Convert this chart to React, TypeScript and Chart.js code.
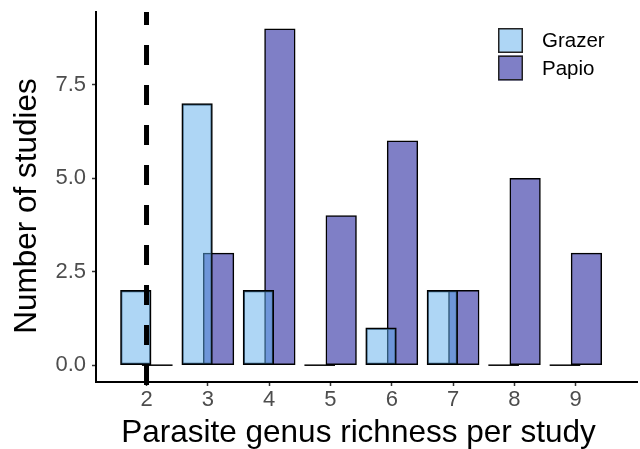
import React, { useEffect, useRef } from 'react';
import { Chart, registerables } from 'chart.js';

Chart.register(...registerables);

// ---- data ----
const categories = [2, 3, 4, 5, 6, 7, 8, 9];
const grazer = [2, 7, 2, 0, 1, 2, 0, 0];
const papio = [0, 3, 9, 4, 6, 2, 5, 3];
const seriesNames = ['Grazer', 'Papio'];
const yTickValues = [0, 2.5, 5, 7.5];
const thresholdX = [2];
const xTitle = 'Parasite genus richness per study';
const yTitle = 'Number of studies';

// ---- style ----
const DODGE = 0.175;
const FONT = "'Liberation Sans', Arial, Helvetica, sans-serif";
const GRAZER_FILL = 'rgba(93,173,235,0.5)';
const GRAZER_KEY = '#AED6F5';
const PAPIO_FILL = '#7F7FC6';

// zero-height bars are drawn as a thin outline (as ggplot does)
const zeroBarPlugin = {
  id: 'zeroBars',
  afterDatasetsDraw(chart: any) {
    const { ctx } = chart;
    ctx.save();
    ctx.strokeStyle = '#000';
    ctx.lineWidth = 1.5;
    for (let d = chart.data.datasets.length - 1; d >= 0; d--) {
      const meta = chart.getDatasetMeta(d);
      meta.data.forEach((el: any, i: number) => {
        const raw: any = chart.data.datasets[d].data[i];
        if (raw.y === 0) {
          ctx.beginPath();
          ctx.moveTo(el.x - el.width / 2, el.y);
          ctx.lineTo(el.x + el.width / 2, el.y);
          ctx.stroke();
        }
      });
    }
    ctx.restore();
  },
};

const vlinePlugin = {
  id: 'vline',
  afterDatasetsDraw(chart: any) {
    const { ctx, chartArea, scales } = chart;
    ctx.save();
    ctx.beginPath();
    ctx.rect(chartArea.left, chartArea.top - 1, chartArea.right - chartArea.left, chartArea.bottom - chartArea.top + 4);
    ctx.clip();
    ctx.strokeStyle = '#000';
    ctx.lineWidth = 5;
    ctx.lineCap = 'butt';
    ctx.setLineDash([20, 20]);
    thresholdX.forEach((v) => {
      const x = scales.x.getPixelForValue(v);
      ctx.beginPath();
      ctx.moveTo(x, chartArea.bottom + 3);
      ctx.lineTo(x, chartArea.top);
      ctx.stroke();
    });
    ctx.restore();
  },
};

const titlesPlugin = {
  id: 'axisTitles',
  afterDraw(chart: any) {
    const { ctx } = chart;
    ctx.save();
    ctx.fillStyle = '#000';
    ctx.font = `31.5px ${FONT}`;
    ctx.textAlign = 'center';
    ctx.textBaseline = 'middle';
    ctx.fillText(xTitle, 358.5, 433);
    ctx.translate(27.75, 206);
    ctx.rotate(-Math.PI / 2);
    ctx.fillText(yTitle, 0, 0);
    ctx.restore();
  },
};

const legendPlugin = {
  id: 'customLegend',
  afterDraw(chart: any) {
    const { ctx } = chart;
    const fills = [GRAZER_KEY, PAPIO_FILL];
    const x0 = 498;
    const y0 = 28;
    const size = 25;
    const gap = 2.5;
    ctx.save();
    seriesNames.forEach((name, i) => {
      const y = y0 + i * (size + gap);
      ctx.fillStyle = fills[i];
      ctx.fillRect(x0, y, size, size);
      ctx.strokeStyle = '#222';
      ctx.lineWidth = 1.5;
      ctx.strokeRect(x0 + 0.75, y + 0.75, size - 1.5, size - 1.5);
      ctx.fillStyle = '#000';
      ctx.font = `20.5px ${FONT}`;
      ctx.textBaseline = 'middle';
      ctx.textAlign = 'left';
      ctx.fillText(name, 542, y + size / 2 + 1);
    });
    ctx.restore();
  },
};

export default function App() {
  const canvasRef = useRef<HTMLCanvasElement | null>(null);

  useEffect(() => {
    if (!canvasRef.current) return;
    const barStyle = {
      borderColor: '#000',
      borderWidth: 1.5,
      borderSkipped: false,
      barThickness: 30.6,
      grouped: false,
    };
    const chart = new Chart(canvasRef.current, {
      type: 'bar',
      data: {
        datasets: [
          {
            label: seriesNames[0],
            data: categories.map((c, i) => ({ x: c - DODGE, y: grazer[i] })),
            backgroundColor: GRAZER_FILL,
            ...barStyle,
          },
          {
            label: seriesNames[1],
            data: categories.map((c, i) => ({ x: c + DODGE, y: papio[i] })),
            backgroundColor: PAPIO_FILL,
            ...barStyle,
          },
        ],
      },
      options: {
        animation: false,
        responsive: false,
        layout: { padding: { top: 12, right: 3, left: 0, bottom: 0 } },
        plugins: {
          legend: { display: false },
          tooltip: { enabled: false },
        },
        scales: {
          x: {
            type: 'linear',
            min: 1.176,
            max: 10.0,
            offset: false,
            grid: {
              display: true,
              drawOnChartArea: false,
              offset: false,
              tickLength: 4,
              tickColor: '#333',
              tickWidth: 1.5,
            },
            border: { display: true, color: '#000', width: 2 },
            afterBuildTicks: (scale: any) => {
              scale.ticks = categories.map((v) => ({ value: v }));
            },
            afterFit: (scale: any) => {
              scale.height = 67;
              scale.paddingLeft = 0;
              scale.paddingRight = 0;
              scale.paddingTop = 0;
              scale.paddingBottom = 0;
            },
            ticks: {
              color: '#4D4D4D',
              font: { family: FONT, size: 22 },
              padding: 1,
              maxRotation: 0,
              autoSkip: false,
              callback: (v: any) => String(v),
            },
            title: { display: false },
          },
          y: {
            type: 'linear',
            min: -0.45,
            max: 9.45,
            grid: {
              display: true,
              drawOnChartArea: false,
              tickLength: 4,
              tickColor: '#333',
              tickWidth: 1.5,
            },
            border: { display: true, color: '#000', width: 2 },
            afterBuildTicks: (scale: any) => {
              scale.ticks = yTickValues.map((v) => ({ value: v }));
            },
            afterFit: (scale: any) => {
              scale.width = 96;
              scale.paddingLeft = 0;
              scale.paddingRight = 0;
              scale.paddingTop = 0;
              scale.paddingBottom = 0;
            },
            ticks: {
              color: '#4D4D4D',
              font: { family: FONT, size: 22 },
              padding: 6,
              autoSkip: false,
              callback: (v: any) => Number(v).toFixed(1),
            },
            title: { display: false },
          },
        },
      },
      plugins: [zeroBarPlugin, vlinePlugin, legendPlugin, titlesPlugin],
    } as any);
    return () => chart.destroy();
  }, []);

  return (
    <div style={{ position: 'absolute', left: 0, top: 0, width: 640, height: 449, background: '#fff' }}>
      <canvas ref={canvasRef} width={640} height={449} style={{ display: 'block' }} />
    </div>
  );
}
